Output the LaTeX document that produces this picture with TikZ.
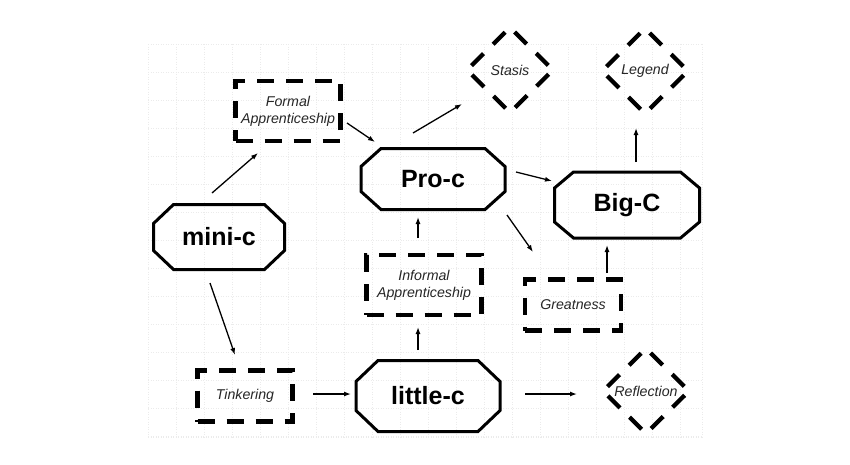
\documentclass[tikz,border=0pt]{standalone}
\usepackage{fontspec}
\setmainfont{Liberation Sans}
\usetikzlibrary{shapes.geometric,arrows.meta,calc}
\newcommand\octdraw[3]{\draw[octline] ([xshift=#2]#1.north west) -- ([xshift=-#2]#1.north east) -- ([yshift=-#3]#1.north east) -- ([yshift=#3]#1.south east) -- ([xshift=-#2]#1.south east) -- ([xshift=#2]#1.south west) -- ([yshift=#3]#1.south west) -- ([yshift=-#3]#1.north west) -- cycle;}
\begin{document}
\begin{tikzpicture}[x=1pt,y=-1pt,
  octbox/.style={rectangle,inner sep=0pt,outer sep=0pt,font=\bfseries\fontsize{25}{28}\selectfont},
  octline/.style={line width=3pt,line join=miter},
  dbox/.style={rectangle,draw,line width=4.3pt,dash pattern=on 17pt off 12pt,inner sep=0pt,outer sep=0pt,align=center,text=black!85,font=\itshape\fontsize{14.2}{17}\selectfont},
  ddia/.style={diamond,aspect=1,draw,line width=4.3pt,dash pattern=on 17pt off 13.3pt,dash phase=23.6pt,inner sep=0pt,outer sep=0pt,minimum width=86pt,minimum height=85pt,text=black!85,font=\itshape\fontsize{14.2}{17}\selectfont},
  arr/.style={line width=1.3pt,-{Latex[length=7pt,width=5pt]}},
  gridline/.style={gray!16,dotted,line width=0.5pt}
]
\useasboundingbox (0,0) rectangle (850,464);
% faint background grid
\foreach \gx in {148,176,...,700} {\draw[gridline] (\gx,44) -- (\gx,437);}
\draw[gridline] (702,44) -- (702,437);
\foreach \gy in {44,72,...,437} {\draw[gridline] (148,\gy) -- (702,\gy);}
\draw[gridline] (148,437) -- (702,437);

% octagon nodes
\node[octbox,minimum width=131pt,minimum height=65pt] (mini) at (219,237) {mini-c};
\node[octbox,minimum width=144pt,minimum height=61pt] (pro) at (433,179) {Pro-c};
\node[octbox,minimum width=145pt,minimum height=66pt] (big) at (627,205) {Big-C};
\node[octbox,minimum width=144pt,minimum height=71pt] (little) at (428,396) {little-c};
\octdraw{mini}{20pt}{19pt}
\octdraw{pro}{20pt}{18pt}
\octdraw{big}{19pt}{16pt}
\octdraw{little}{22pt}{21pt}

% dashed boxes
\node[dbox,minimum width=105pt,minimum height=60pt] (formal) at (288,111) {Formal\\Apprenticeship};
\node[dbox,minimum width=115pt,minimum height=60pt] (informal) at (424,285) {Informal\\Apprenticeship};
\node[dbox,minimum width=95pt,minimum height=51pt] (tink) at (245,396) {Tinkering};
\node[dbox,minimum width=96pt,minimum height=51pt] (great) at (573,305) {Greatness};

% dashed diamonds
\node[ddia] (stasis) at (510,70) {Stasis};
\node[ddia] (legend) at (645,71) {Legend};
\node[ddia] (refl) at (646,391) {Reflection};

% connectors
\draw[arr] ($(mini)+(-7,-44)$) -- ($(formal)+(-30,42)$);
\draw[arr] ($(formal)+(59,12)$) -- ($(pro)+(-58,-37)$);
\draw[arr] ($(pro)+(-20,-46)$) -- ($(stasis)+(-48,34)$);
\draw[arr] ($(pro)+(83,-7)$) -- ($(big)+(-75,-24)$);
\draw[arr] ($(pro)+(74,36)$) -- ($(great)+(-40,-53)$);
\draw[arr] ($(informal)+(-6,-47)$) -- ($(pro)+(-15,38)$);
\draw[arr] ($(little)+(-10,-46)$) -- ($(informal)+(-6,42)$);
\draw[arr] ($(mini)+(-9,46)$) -- ($(tink)+(-10,-41)$);
\draw[arr] ($(tink)+(68,-2)$) -- ($(little)+(-77,-2)$);
\draw[arr] ($(little)+(97,-2)$) -- ($(refl)+(-69,3)$);
\draw[arr] ($(great)+(34,-32)$) -- ($(big)+(-20,40)$);
\draw[arr] ($(big)+(9,-43)$) -- ($(legend)+(-9,57)$);
\end{tikzpicture}
\end{document}
